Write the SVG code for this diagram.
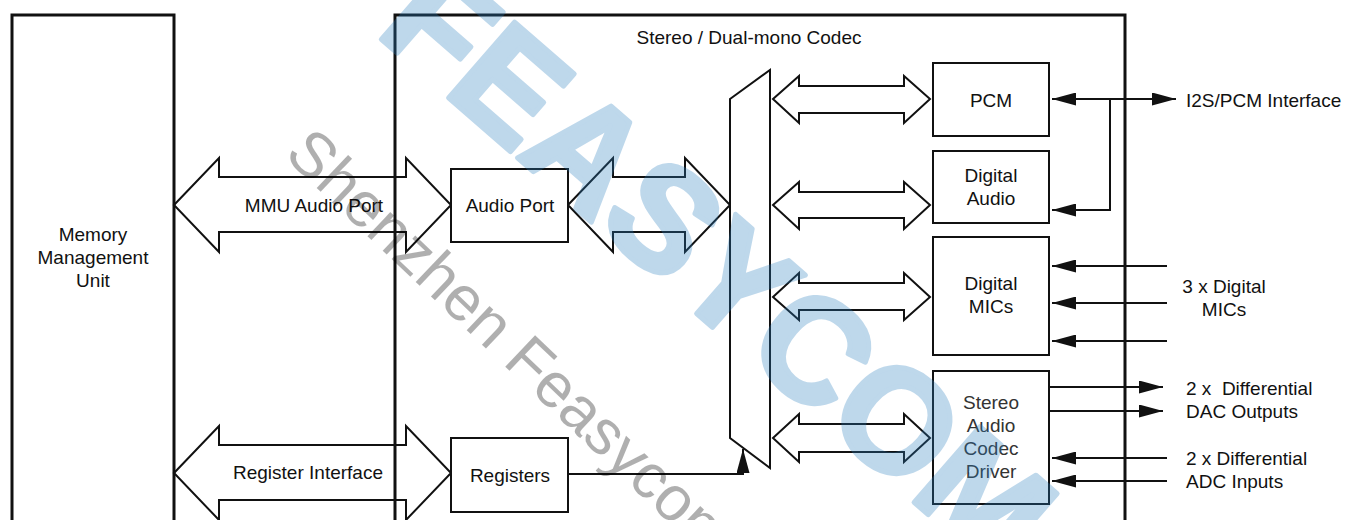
<svg xmlns="http://www.w3.org/2000/svg" width="1346" height="520" viewBox="0 0 1346 520">
<style>
  .t{font-family:"Liberation Sans",Arial,sans-serif;font-size:19px;fill:#111;}
  .m{text-anchor:middle;}
  .g{fill:#333;}
  .big{fill:#fff;stroke:#111;stroke-width:3;}
  .box{fill:#fff;stroke:#111;stroke-width:2;}
  .dbl{fill:none;stroke:#111;stroke-width:2;stroke-linejoin:miter;}
  .ln{fill:none;stroke:#111;stroke-width:2;}
  .wm1{font-family:"Liberation Sans",Arial,sans-serif;font-size:146px;font-weight:bold;fill:#2a7fc0;stroke:#2a7fc0;stroke-width:5;stroke-linejoin:round;opacity:0.3;}
  .wm2{font-family:"Liberation Sans",Arial,sans-serif;font-size:63px;fill:#000;opacity:0.31;}
</style>
<defs>
  <marker id="ah" viewBox="0 0 24 13" refX="24" refY="6.5" markerWidth="24" markerHeight="13" markerUnits="userSpaceOnUse" orient="auto">
    <path d="M0,0 L24,6.5 L0,13 Z" fill="#111"/>
  </marker>
</defs>
<rect width="1346" height="520" fill="#fff"/>

<g id="mmu">
  <rect class="big" x="12" y="15" width="162" height="530"/>
  <text class="t m" x="93" y="241">Memory</text>
  <text class="t m" x="93" y="264">Management</text>
  <text class="t m" x="93" y="287">Unit</text>
</g>

<g id="codec">
  <rect class="big" x="395" y="15" width="730" height="530" stroke-width="2.5"/>
  <text class="t m" x="749" y="44">Stereo / Dual-mono Codec</text>
</g>

<g id="connectors">
  <polygon class="dbl" points="174,205 219,158 219,177 406,177 406,158 451,205 406,252 406,232 219,232 219,252"/>
  <polygon class="dbl" points="174,473 219,426 219,445 406,445 406,426 451,473 406,520 406,500 219,500 219,520"/>
  <polygon class="dbl" points="568,205 613,158 613,177 685,177 685,158 730,205 685,252 685,232 613,232 613,252" stroke="#222"/>
  <polygon class="dbl" points="773,99 799,76 799,86 904,86 904,76 930,99 904,123 904,113 799,113 799,123"/>
  <polygon class="dbl" points="773,205 799,182 799,192 904,192 904,182 930,205 904,229 904,218 799,218 799,229"/>
  <polygon class="dbl" points="773,297 799,273 799,283 904,283 904,273 930,297 904,320 904,310 799,310 799,320"/>
  <polygon class="dbl" points="773,438 799,414 799,424 904,424 904,414 930,438 904,462 904,452 799,452 799,462"/>
  <path class="ln" d="M568,474 H743 V449" marker-end="url(#ah)"/>
  <path class="ln" d="M1110,99 H1176" marker-end="url(#ah)"/>
  <path class="ln" d="M1110,99 H1052" marker-end="url(#ah)"/>
  <path class="ln" d="M1110,99 V210 H1052" marker-end="url(#ah)"/>
  <path class="ln" d="M1167,266 H1052" marker-end="url(#ah)"/>
  <path class="ln" d="M1167,303 H1052" marker-end="url(#ah)"/>
  <path class="ln" d="M1167,341 H1052" marker-end="url(#ah)"/>
  <path class="ln" d="M1049,387 H1163" marker-end="url(#ah)"/>
  <path class="ln" d="M1049,411 H1163" marker-end="url(#ah)"/>
  <path class="ln" d="M1167,458 H1052" marker-end="url(#ah)"/>
  <path class="ln" d="M1167,481 H1052" marker-end="url(#ah)"/>
</g>

<g id="mux">
  <polygon class="box" points="730,99 770,70 770,468 730,438"/>
</g>

<g id="audio-port">
  <rect class="box" x="451" y="169" width="117" height="73"/>
  <text class="t m" x="510" y="212">Audio Port</text>
</g>
<g id="registers">
  <rect class="box" x="451" y="438" width="117" height="74"/>
  <text class="t m" x="510" y="482">Registers</text>
</g>
<g id="pcm">
  <rect class="box" x="933" y="63" width="116" height="73"/>
  <text class="t m" x="991" y="107">PCM</text>
</g>
<g id="digital-audio">
  <rect class="box" x="933" y="151" width="116" height="72"/>
  <text class="t m" x="991" y="182">Digital</text>
  <text class="t m" x="991" y="205">Audio</text>
</g>
<g id="digital-mics">
  <rect class="box" x="933" y="237" width="116" height="118"/>
  <text class="t m" x="991" y="290">Digital</text>
  <text class="t m" x="991" y="313">MICs</text>
</g>
<g id="codec-driver">
  <rect class="box" x="933" y="371" width="116" height="133"/>
  <text class="t m g" x="991" y="409">Stereo</text>
  <text class="t m g" x="991" y="432">Audio</text>
  <text class="t m g" x="991" y="455">Codec</text>
  <text class="t m g" x="991" y="478">Driver</text>
</g>

<g id="labels">
  <text class="t m" x="314" y="212">MMU Audio Port</text>
  <text class="t m" x="308" y="479">Register Interface</text>
  <text class="t" x="1186" y="107">I2S/PCM Interface</text>
  <text class="t m" x="1224" y="293">3 x Digital</text>
  <text class="t m" x="1224" y="316">MICs</text>
  <text class="t" x="1186" y="395" style="white-space:pre">2 x  Differential</text>
  <text class="t" x="1186" y="418">DAC Outputs</text>
  <text class="t" x="1186" y="465">2 x Differential</text>
  <text class="t" x="1186" y="488">ADC Inputs</text>
</g>

<g id="watermark">
  <text class="wm1" transform="translate(374,33) rotate(41)">FEASYCOM</text>
  <text class="wm2" transform="translate(283,156) rotate(43.5)">Shenzhen Feasycom</text>
</g>
</svg>
